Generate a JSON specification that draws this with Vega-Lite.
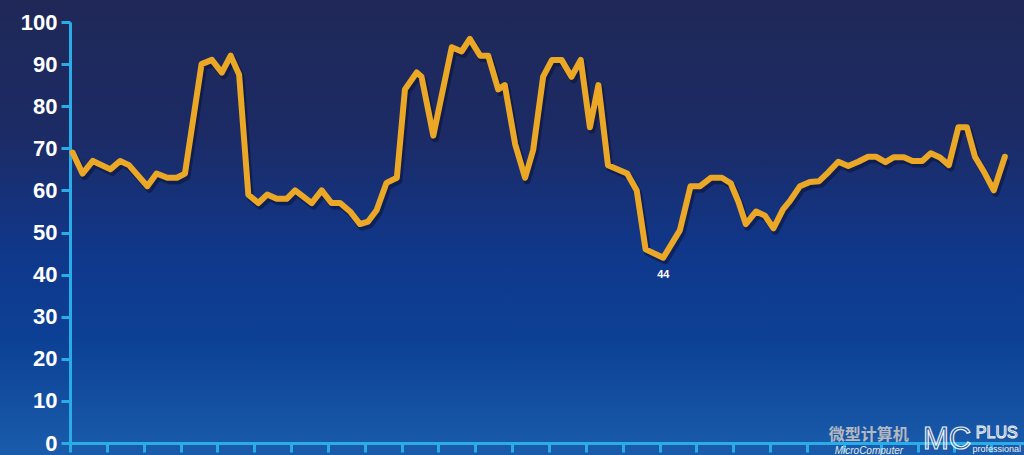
{
  "$schema": "https://vega.github.io/schema/vega-lite/v6.json",
  "width": 1024,
  "height": 455,
  "autosize": "none",
  "padding": 0,
  "background": "#1a3f8c",
  "config": {
    "view": {
      "stroke": null,
      "fill": {
        "gradient": "linear",
        "x1": 0, "y1": 0, "x2": 0, "y2": 1,
        "stops": [
          {"offset": 0, "color": "#1f2857"},
          {"offset": 0.3, "color": "#1c2b66"},
          {"offset": 0.55, "color": "#10378a"},
          {"offset": 0.75, "color": "#0c4196"},
          {"offset": 1, "color": "#1a5cab"}
        ]
      }
    },
    "font": "Liberation Sans"
  },
  "data": {
    "values": [
      {"t": 0.07, "v": 69}, {"t": 0.34, "v": 64}, {"t": 0.62, "v": 67}, {"t": 1.10, "v": 65},
      {"t": 1.36, "v": 67}, {"t": 1.60, "v": 66}, {"t": 2.10, "v": 61}, {"t": 2.35, "v": 64},
      {"t": 2.64, "v": 63}, {"t": 2.90, "v": 63}, {"t": 3.12, "v": 64}, {"t": 3.57, "v": 90},
      {"t": 3.85, "v": 91}, {"t": 4.12, "v": 88}, {"t": 4.36, "v": 92}, {"t": 4.59, "v": 87.5},
      {"t": 4.84, "v": 59}, {"t": 5.11, "v": 57}, {"t": 5.35, "v": 59}, {"t": 5.61, "v": 58},
      {"t": 5.88, "v": 58}, {"t": 6.11, "v": 60}, {"t": 6.56, "v": 57}, {"t": 6.83, "v": 60},
      {"t": 7.10, "v": 57}, {"t": 7.33, "v": 57}, {"t": 7.60, "v": 55}, {"t": 7.87, "v": 52},
      {"t": 8.09, "v": 52.6}, {"t": 8.32, "v": 55.3}, {"t": 8.59, "v": 61.8}, {"t": 8.87, "v": 63},
      {"t": 9.09, "v": 84}, {"t": 9.41, "v": 88}, {"t": 9.54, "v": 87}, {"t": 9.86, "v": 73},
      {"t": 10.36, "v": 94}, {"t": 10.63, "v": 93}, {"t": 10.85, "v": 96}, {"t": 11.13, "v": 92},
      {"t": 11.35, "v": 92}, {"t": 11.62, "v": 84}, {"t": 11.80, "v": 85}, {"t": 12.08, "v": 71},
      {"t": 12.35, "v": 63}, {"t": 12.57, "v": 69.6}, {"t": 12.84, "v": 87}, {"t": 13.08, "v": 91},
      {"t": 13.34, "v": 91}, {"t": 13.61, "v": 87}, {"t": 13.86, "v": 91}, {"t": 14.11, "v": 75},
      {"t": 14.34, "v": 85}, {"t": 14.60, "v": 66}, {"t": 15.12, "v": 64}, {"t": 15.38, "v": 60},
      {"t": 15.62, "v": 46}, {"t": 16.10, "v": 44}, {"t": 16.55, "v": 50.5}, {"t": 16.84, "v": 61},
      {"t": 17.10, "v": 61}, {"t": 17.39, "v": 63}, {"t": 17.69, "v": 63}, {"t": 17.93, "v": 61.7},
      {"t": 18.14, "v": 57.3}, {"t": 18.34, "v": 52}, {"t": 18.62, "v": 55}, {"t": 18.86, "v": 54},
      {"t": 19.09, "v": 51}, {"t": 19.35, "v": 55.5}, {"t": 19.54, "v": 57.5}, {"t": 19.81, "v": 61},
      {"t": 20.08, "v": 62}, {"t": 20.33, "v": 62.2}, {"t": 20.58, "v": 64.3}, {"t": 20.85, "v": 66.8},
      {"t": 21.12, "v": 65.8}, {"t": 21.39, "v": 66.8}, {"t": 21.66, "v": 68}, {"t": 21.87, "v": 68},
      {"t": 22.13, "v": 66.7}, {"t": 22.36, "v": 67.9}, {"t": 22.63, "v": 67.9}, {"t": 22.86, "v": 67},
      {"t": 23.13, "v": 67}, {"t": 23.36, "v": 68.8}, {"t": 23.61, "v": 67.8}, {"t": 23.85, "v": 66},
      {"t": 24.11, "v": 75}, {"t": 24.34, "v": 75}, {"t": 24.56, "v": 68}, {"t": 24.83, "v": 64},
      {"t": 25.07, "v": 60}, {"t": 25.37, "v": 68}
    ]
  },
  "encoding": {
    "x": {
      "field": "t", "type": "quantitative",
      "scale": {"domain": [0, 25.89], "range": [70, 1024], "nice": false, "zero": false},
      "axis": {
        "title": null, "labels": false, "grid": false,
        "values": [0,1,2,3,4,5,6,7,8,9,10,11,12,13,14,15,16,17,18,19,20,21,22,23,24,25],
        "offset": -12,
        "domainColor": "#2aace9", "domainWidth": 3,
        "tickColor": "#2aace9", "tickWidth": 3, "tickSize": 9
      }
    },
    "y": {
      "field": "v", "type": "quantitative",
      "scale": {"domain": [0, 100], "range": [443, 22], "nice": false},
      "axis": {
        "title": null, "grid": false,
        "values": [0,10,20,30,40,50,60,70,80,90,100],
        "offset": -70,
        "domainColor": "#2aace9", "domainWidth": 3,
        "tickColor": "#2aace9", "tickWidth": 3, "tickSize": 9,
        "labelColor": "#ffffff", "labelFont": "Liberation Sans", "labelFontSize": 22,
        "labelFontWeight": "bold", "labelPadding": 4
      }
    }
  },
  "layer": [
    {
      "mark": {"type": "line", "color": "#070c2a", "strokeWidth": 7, "opacity": 0.45, "xOffset": 2, "yOffset": 3, "strokeJoin": "round"}
    },
    {
      "mark": {"type": "line", "color": "#eaa826", "strokeWidth": 6, "strokeJoin": "round", "strokeCap": "round"}
    },
    {
      "transform": [{"filter": "datum.v == 44"}],
      "mark": {"type": "text", "color": "#ffffff", "fontSize": 11, "fontWeight": "bold", "dy": 17, "baseline": "middle"},
      "encoding": {"text": {"field": "v", "type": "quantitative"}}
    },
    {
      "transform": [{"filter": "datum.v == 44"}],
      "mark": {"type": "text", "text": "微型计算机", "font": "Noto Sans CJK SC", "fontWeight": "bold", "fontSize": 16, "color": "#b4b8c0", "align": "center", "baseline": "middle"},
      "encoding": {"x": {"datum": 21.68, "type": "quantitative"}, "y": {"datum": 1.9, "type": "quantitative"}}
    },
    {
      "transform": [{"filter": "datum.v == 44"}],
      "mark": {"type": "text", "text": "MicroComputer", "font": "Liberation Sans", "fontStyle": "italic", "fontSize": 10, "color": "#e8e8e8", "align": "center", "baseline": "middle"},
      "encoding": {"x": {"datum": 21.68, "type": "quantitative"}, "y": {"datum": -1.8, "type": "quantitative"}}
    },
    {
      "transform": [{"filter": "datum.v == 44"}],
      "mark": {"type": "text", "text": "MC", "font": "Liberation Sans", "fontSize": 31, "fill": "transparent", "stroke": "#f0f0f0", "strokeWidth": 1.2, "align": "center", "baseline": "middle"},
      "encoding": {"x": {"datum": 23.8, "type": "quantitative"}, "y": {"datum": 0.6, "type": "quantitative"}}
    },
    {
      "transform": [{"filter": "datum.v == 44"}],
      "mark": {"type": "text", "text": "PLUS", "font": "Liberation Sans", "fontSize": 16, "fill": "transparent", "stroke": "#f0f0f0", "strokeWidth": 1, "align": "center", "baseline": "middle"},
      "encoding": {"x": {"datum": 25.15, "type": "quantitative"}, "y": {"datum": 2.3, "type": "quantitative"}}
    },
    {
      "transform": [{"filter": "datum.v == 44"}],
      "mark": {"type": "text", "text": "professional", "font": "Liberation Sans", "fontSize": 9, "color": "#f0f0f0", "align": "center", "baseline": "middle"},
      "encoding": {"x": {"datum": 25.15, "type": "quantitative"}, "y": {"datum": -1.5, "type": "quantitative"}}
    }
  ]
}
